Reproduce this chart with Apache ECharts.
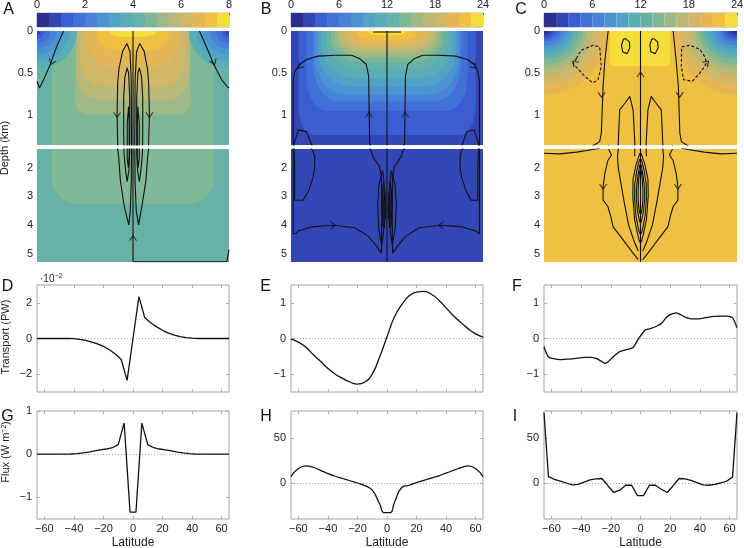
<!DOCTYPE html>
<html><head><meta charset="utf-8">
<script src="https://cdn.jsdelivr.net/npm/echarts@6/dist/echarts.min.js"></script>
<style>html,body{margin:0;padding:0;background:#fff}#c{width:744px;height:548px}</style>
</head><body><div id="c"></div>
<script>
// ================= DATA =================
const latTicks = [-60, -40, -20, 0, 20, 40, 60];
const depthTicksUpper = [0, 0.5, 1];
const depthTicksLower = [2, 3, 4, 5];
const cbTicksA = [0, 2, 4, 6, 8];
const cbTicksB = [0, 6, 12, 18, 24];
const cbTicksC = [0, 6, 12, 18, 24];

// Temperature regions (isotherm bands):
// [lat0, lat1, depthTop, depthBottom, cornerLat, cornerDepth, temperature]
const fieldA = [
  [-70, 70, -1, 6, 0, 0, 4.25],
  [-55, 55, -3.25, 3.25, 17, 0.9, 4.75],
  [-39, 39, -1.0, 1.0, 9, 0.15, 5.25],
  [-38, 38, -0.82, 0.82, 14, 0.3, 5.75],
  [-35.5, 35.5, -0.66, 0.66, 16, 0.35, 6.25],
  [-31, 31, -0.42, 0.42, 16, 0.3, 6.75],
  [-24.5, 24.5, -0.23, 0.23, 14, 0.18, 7.25],
  [-15.5, 15.5, -0.07, 0.07, 10, 0.06, 7.75],
  [-92, -38, -0.45, 0.45, 27, 0.45, 3.75],
  [-87, -43, -0.36, 0.36, 22, 0.36, 3.25],
  [-82, -48, -0.28, 0.28, 17, 0.28, 2.75],
  [-78, -52, -0.21, 0.21, 13, 0.21, 2.25],
  [-74, -56, -0.15, 0.15, 9, 0.15, 1.75],
  [-70, -60, -0.09, 0.09, 5, 0.09, 1.25],
  [-67.5, -62.5, -0.05, 0.05, 2.5, 0.05, 0.75],
  [38, 92, -0.45, 0.45, 27, 0.45, 3.75],
  [43, 87, -0.36, 0.36, 22, 0.36, 3.25],
  [48, 82, -0.28, 0.28, 17, 0.28, 2.75],
  [52, 78, -0.21, 0.21, 13, 0.21, 2.25],
  [56, 74, -0.15, 0.15, 9, 0.15, 1.75],
  [60, 70, -0.09, 0.09, 5, 0.09, 1.25],
  [62.5, 67.5, -0.05, 0.05, 2.5, 0.05, 0.75]
];
const fieldB = [
  [-70, 70, -1, 6, 0, 0, 2.25],
  [-60, 60, -1.24, 1.24, 10, 0.35, 3.75],
  [-54.5, 54.5, -0.95, 0.95, 14, 0.4, 5.25],
  [-50, 50, -0.84, 0.84, 18, 0.45, 6.75],
  [-48.5, 48.5, -0.76, 0.76, 20, 0.45, 8.25],
  [-46.5, 46.5, -0.66, 0.66, 22, 0.42, 9.75],
  [-44, 44, -0.56, 0.56, 22, 0.38, 11.25],
  [-41, 41, -0.45, 0.45, 22, 0.32, 12.75],
  [-38, 38, -0.37, 0.37, 21, 0.28, 14.25],
  [-35.5, 35.5, -0.31, 0.31, 20, 0.24, 15.75],
  [-33, 33, -0.26, 0.26, 19, 0.2, 17.25],
  [-30, 30, -0.21, 0.21, 18, 0.16, 18.75],
  [-26, 26, -0.16, 0.16, 16, 0.12, 20.25],
  [-20, 20, -0.11, 0.11, 13, 0.08, 21.75],
  [-12.8, 12.8, -0.05, 0.05, 9, 0.04, 23.25]
];
const fieldC = [
  [-70, 70, -1, 6, 0, 0, 21.75],
  [-107.5, -22.5, -0.76, 0.76, 42.5, 0.76, 20.25],
  [-103.5, -26.5, -0.64, 0.64, 38.5, 0.64, 18.75],
  [-98, -32, -0.54, 0.54, 33, 0.54, 17.25],
  [-94, -36, -0.46, 0.46, 29, 0.46, 15.75],
  [-91, -39, -0.4, 0.4, 26, 0.4, 14.25],
  [-88.5, -41.5, -0.34, 0.34, 23.5, 0.34, 12.75],
  [-86, -44, -0.29, 0.29, 21, 0.29, 11.25],
  [-83.5, -46.5, -0.25, 0.25, 18.5, 0.25, 9.75],
  [-81, -49, -0.21, 0.21, 16, 0.21, 8.25],
  [-78.5, -51.5, -0.17, 0.17, 13.5, 0.17, 6.75],
  [-76, -54, -0.13, 0.13, 11, 0.13, 5.25],
  [-73.5, -56.5, -0.1, 0.1, 8.5, 0.1, 3.75],
  [-71, -59, -0.07, 0.07, 6, 0.07, 2.25],
  [-68.5, -61.5, -0.04, 0.04, 3.5, 0.04, 0.75],
  [22.5, 107.5, -0.76, 0.76, 42.5, 0.76, 20.25],
  [26.5, 103.5, -0.64, 0.64, 38.5, 0.64, 18.75],
  [32, 98, -0.54, 0.54, 33, 0.54, 17.25],
  [36, 94, -0.46, 0.46, 29, 0.46, 15.75],
  [39, 91, -0.4, 0.4, 26, 0.4, 14.25],
  [41.5, 88.5, -0.34, 0.34, 23.5, 0.34, 12.75],
  [44, 86, -0.29, 0.29, 21, 0.29, 11.25],
  [46.5, 83.5, -0.25, 0.25, 18.5, 0.25, 9.75],
  [49, 81, -0.21, 0.21, 16, 0.21, 8.25],
  [51.5, 78.5, -0.17, 0.17, 13.5, 0.17, 6.75],
  [54, 76, -0.13, 0.13, 11, 0.13, 5.25],
  [56.5, 73.5, -0.1, 0.1, 8.5, 0.1, 3.75],
  [59, 71, -0.07, 0.07, 6, 0.07, 2.25],
  [61.5, 68.5, -0.04, 0.04, 3.5, 0.04, 0.75],
  [-20.5, 20, -0.42, 0.42, 3, 0.06, 23.25]
];

// Overturning streamlines [lat, depth km]
const streamA = [
  [[0, 0], [0, 5.28]],
  [[0, 5.27], [63.5, 5.27], [65, 4.85]],
  [[-47, 0], [-52, 0.2], [-56, 0.4], [-60.5, 0.58], [-63.3, 0.68], [-65, 0.6]],
  [[45, 0], [50, 0.2], [54.7, 0.4], [60, 0.58], [64.5, 0.68], [65, 0.67]],
  [[-4, 0.15], [-7, 0.24], [-9.5, 0.45], [-10.4, 0.62], [-10.8, 1.0], [-10.4, 1.34], [-9.7, 1.62], [-8.6, 2.43], [-5.9, 3.35], [-2.9, 3.99], [-1.8, 3.5], [-1.2, 2.5], [-1.0, 1.4], [-1.2, 0.6], [-2, 0.25], [-4, 0.15]],
  [[4.5, 0.15], [7.5, 0.24], [9.8, 0.45], [10.6, 0.62], [11.1, 1.0], [10.6, 1.34], [9.9, 1.62], [8.8, 2.43], [6, 3.35], [3.8, 3.99], [2.2, 3.5], [1.4, 2.5], [1.2, 1.4], [1.4, 0.6], [2.4, 0.25], [4.5, 0.15]],
  [[-4, 0.44], [-5.5, 0.55], [-6.3, 0.8], [-6.3, 1.22], [-5.9, 1.62], [-5, 2.1], [-4, 2.49], [-2.8, 2.1], [-2.2, 1.4], [-2.2, 0.8], [-3, 0.5], [-4, 0.44]],
  [[4.3, 0.44], [5.8, 0.55], [6.6, 0.8], [6.6, 1.22], [6.2, 1.62], [5.3, 2.1], [4.3, 2.49], [3.1, 2.1], [2.5, 1.4], [2.5, 0.8], [3.3, 0.5], [4.3, 0.44]],
  [[-3, 0.9], [-3.9, 1.1], [-3.9, 1.7], [-3.1, 2.0], [-2.6, 1.6], [-2.6, 1.1], [-3, 0.9]],
  [[3.3, 0.9], [4.2, 1.1], [4.2, 1.7], [3.4, 2.0], [2.9, 1.6], [2.9, 1.1], [3.3, 0.9]]
];
const arrowsA = [[-55, 0.37, -22], [54.7, 0.37, 22], [-10.8, 1.0, 0], [11.1, 1.0, 0], [0, 4.45, 180]];

const streamB = [
  [[0, 0], [0, 5.28]],
  [[-9.5, 0.012], [9.5, 0.012]],
  [[-11.7, 1.34], [-12.2, 0.82], [-12.4, 0.54], [-14, 0.4], [-18.5, 0.33], [-24, 0.29], [-35, 0.29], [-46.6, 0.3], [-54.5, 0.34], [-59, 0.4], [-62.4, 0.48], [-63.5, 0.58], [-63.5, 4.3], [-62, 4.3], [-60, 4.2], [-51, 4.06], [-36.5, 4.0], [-21.8, 4.09], [-12.8, 4.38], [-7.2, 4.72], [-3.8, 4.97], [-3.6, 4.3], [-3.6, 3.1], [-3.8, 2.31], [-5, 1.97], [-9.5, 1.62], [-11, 1.39], [-11.7, 1.34]],
  [[11.9, 1.34], [12.3, 0.82], [12.5, 0.54], [14, 0.4], [18.5, 0.33], [24, 0.29], [35, 0.29], [46.6, 0.3], [54.5, 0.34], [59, 0.4], [61.5, 0.48], [62.6, 0.58], [62.6, 4.3], [61.5, 4.3], [60, 4.2], [51, 4.06], [36.5, 4.0], [21.8, 4.09], [12.8, 4.38], [7.2, 4.72], [3.8, 4.97], [3.6, 4.3], [3.6, 3.1], [3.8, 2.31], [5, 1.97], [9.5, 1.62], [11, 1.39], [11.9, 1.34]],
  [[-63, 1.35], [-60, 1.18], [-54.5, 1.2], [-50.5, 1.38], [-48.9, 1.62], [-49, 2.0], [-50, 2.33], [-53, 2.8], [-56.8, 3.13], [-62.5, 3.13], [-62.5, 2.0], [-63, 1.35]],
  [[62, 1.35], [59, 1.18], [54, 1.2], [50.5, 1.38], [49.5, 1.62], [49.5, 2.0], [50.5, 2.33], [53.5, 2.8], [57, 3.13], [61.5, 3.13], [61.5, 2.0], [62, 1.35]],
  [[-3, 2.1], [-5.5, 2.6], [-6.3, 3.3], [-5.6, 4.1], [-3.6, 4.7], [-2.2, 4.2], [-2.0, 3.0], [-2.2, 2.4], [-3, 2.1]],
  [[3, 2.1], [5.5, 2.6], [6.3, 3.3], [5.6, 4.1], [3.6, 4.7], [2.2, 4.2], [2.0, 3.0], [2.2, 2.4], [3, 2.1]],
  [[-2.2, 2.5], [-3, 2.8], [-3.2, 3.4], [-2.8, 4.0], [-1.8, 4.1], [-1.2, 3.5], [-1.3, 2.9], [-2.2, 2.5]],
  [[2.2, 2.5], [3, 2.8], [3.2, 3.4], [2.8, 4.0], [1.8, 4.1], [1.2, 3.5], [1.3, 2.9], [2.2, 2.5]],
  [[-1.5, 2.9], [-2, 3.2], [-2, 3.7], [-1.2, 3.8], [-0.8, 3.4], [-1.5, 2.9]],
  [[1.5, 2.9], [2, 3.2], [2, 3.7], [1.2, 3.8], [0.8, 3.4], [1.5, 2.9]]
];
const arrowsB = [[-59, 0.42, -45], [59, 0.42, 45], [-12.2, 1.0, 180], [12.3, 1.0, 180], [-36.5, 4.0, 90], [36.5, 4.0, -90]];

const streamC = [
  [[0, 0], [0, 5.28]],
  [[-21.8, 0], [-24, 0.35], [-25.2, 0.66], [-26.4, 1.22], [-27.5, 1.32], [-32, 1.37], [-43, 1.46], [-54.5, 1.52], [-65, 1.5]],
  [[22, 0], [24, 0.35], [25.5, 0.66], [26.5, 1.22], [27.5, 1.32], [32, 1.37], [43, 1.46], [54.5, 1.52], [65, 1.5]],
  [[-21.5, 1.36], [-19.5, 1.56], [-22, 1.75], [-24, 2.2], [-25.2, 2.66], [-25.2, 3.13], [-22, 3.35], [-20, 3.7], [-18.5, 4.05], [-11.7, 4.51], [-5, 4.97], [-1.5, 5.2]],
  [[21.5, 1.36], [19.5, 1.56], [22, 1.75], [24, 2.2], [25.2, 2.66], [25.2, 3.13], [22, 3.35], [20, 3.7], [18.5, 4.05], [11.7, 4.51], [5, 4.97], [1.5, 5.2]],
  [[-4, 1.6], [-3.8, 1.34], [-5, 0.94], [-7.2, 0.78], [-10, 0.85], [-14, 0.94], [-15, 1.34], [-15.5, 1.6], [-15, 2.0], [-13, 2.6], [-11, 3.2], [-8, 4.0], [-4, 4.6], [-1.5, 4.9]],
  [[4, 1.6], [3.8, 1.34], [5, 0.94], [7.2, 0.78], [10, 0.85], [14, 0.94], [15, 1.34], [15.5, 1.6], [15, 2.0], [13, 2.6], [11, 3.2], [8, 4.0], [4, 4.6], [1.5, 4.9]],
  [[-0.5, 1.5], [-3, 1.9], [-5, 2.4], [-5.2, 3.0], [-4, 3.8], [-2, 4.3], [-0.5, 4.6]],
  [[0.5, 1.5], [3, 1.9], [5, 2.4], [5.2, 3.0], [4, 3.8], [2, 4.3], [0.5, 4.6]],
  [[-0.5, 1.7], [-2.5, 2.1], [-3.9, 2.6], [-4, 3.1], [-3, 3.7], [-1.5, 4.1], [-0.5, 4.3]],
  [[0.5, 1.7], [2.5, 2.1], [3.9, 2.6], [4, 3.1], [3, 3.7], [1.5, 4.1], [0.5, 4.3]],
  [[-0.5, 1.9], [-1.8, 2.3], [-2.7, 2.7], [-2.8, 3.1], [-2, 3.5], [-0.5, 3.9]],
  [[0.5, 1.9], [1.8, 2.3], [2.7, 2.7], [2.8, 3.1], [2, 3.5], [0.5, 3.9]],
  [[-0.5, 2.1], [-1.2, 2.4], [-1.6, 2.8], [-1.6, 3.1], [-1.1, 3.4], [-0.5, 3.6]],
  [[0.5, 2.1], [1.2, 2.4], [1.6, 2.8], [1.6, 3.1], [1.1, 3.4], [0.5, 3.6]],
  [[-10, 0.09], [-7.5, 0.13], [-7.2, 0.2], [-9, 0.27], [-12, 0.25], [-12.8, 0.17], [-11.5, 0.1], [-10, 0.09]],
  [[9, 0.09], [11.5, 0.13], [11.9, 0.2], [10, 0.27], [7, 0.25], [6.3, 0.17], [7.5, 0.1], [9, 0.09]]
];
const dashedC = [
  [[-43.2, 0.33], [-40, 0.23], [-32, 0.17], [-27.5, 0.19], [-26.4, 0.42], [-28.6, 0.58], [-32, 0.62], [-37.6, 0.54], [-43.2, 0.43], [-45.5, 0.38], [-43.2, 0.33]],
  [[27.7, 0.19], [33.3, 0.17], [40, 0.22], [43, 0.3], [44.6, 0.38], [41, 0.48], [35, 0.6], [29, 0.58], [27.5, 0.42], [27.7, 0.19]]
];
const arrowsC = [[-26.2, 0.76, 0], [26.4, 0.76, 0], [-25.2, 2.66, 0], [25.2, 2.66, 0], [0, 0.52, 180], [-44.4, 0.38, 225], [44.6, 0.38, 135]];

// Heat transport (D: x1e-2 PW; E, F: PW)
const latD = [-65, -60, -56, -52, -48, -44, -40, -36, -32, -28, -24, -20, -16, -12, -8, -4, 0, 4, 8, 12, 16, 20, 24, 28, 32, 36, 40, 44, 48, 52, 56, 60, 65];
const transportD = [0, 0, 0, 0, 0, 0, -0.01, -0.05, -0.11, -0.2, -0.3, -0.44, -0.63, -0.87, -1.18, -2.35, 0, 2.35, 1.16, 0.88, 0.65, 0.46, 0.3, 0.19, 0.11, 0.05, 0.02, 0, 0, 0, 0, 0, 0];
const latE = [-65, -60, -55, -50, -45, -40, -35, -30, -25, -20, -15, -10, -5, 0, 5, 10, 15, 20, 25, 30, 35, 40, 45, 50, 55, 60, 65];
const transportE = [-0.02, -0.1, -0.24, -0.45, -0.64, -0.84, -1.0, -1.12, -1.22, -1.28, -1.22, -1.0, -0.52, 0.05, 0.6, 0.95, 1.2, 1.3, 1.32, 1.24, 1.08, 0.86, 0.64, 0.45, 0.27, 0.13, 0.04];
const latF = [-65, -62, -58, -54, -50, -46, -42, -38, -34, -30, -26, -24, -22, -18, -14, -10, -5, -2, 3, 6, 10, 14, 18, 22, 24, 26, 30, 34, 38, 42, 46, 50, 54, 58, 62, 65];
const transportF = [-0.23, -0.52, -0.57, -0.59, -0.58, -0.57, -0.55, -0.53, -0.53, -0.56, -0.65, -0.7, -0.66, -0.5, -0.37, -0.32, -0.25, -0.05, 0.23, 0.27, 0.33, 0.42, 0.62, 0.7, 0.72, 0.69, 0.6, 0.55, 0.55, 0.57, 0.6, 0.62, 0.63, 0.63, 0.58, 0.3];
// Surface heat flux (W m-2)
const latG = [-65, -62, -58, -54, -50, -46, -42, -38, -34, -30, -26, -22, -18, -14, -10, -6, -2, 2, 6, 10, 14, 18, 22, 26, 30, 34, 38, 42, 46, 50, 54, 58, 62, 65];
const fluxG = [0, 0, 0, 0, 0, 0, 0.005, 0.012, 0.03, 0.05, 0.075, 0.1, 0.12, 0.15, 0.22, 0.72, -1.34, -1.34, 0.72, 0.22, 0.15, 0.12, 0.1, 0.075, 0.05, 0.03, 0.012, 0.005, 0, 0, 0, 0, 0, 0];
const latH = [-65, -60, -55, -50, -45, -40, -35, -30, -25, -20, -15, -10, -5, -2, 2, 5, 10, 15, 20, 25, 30, 35, 40, 45, 50, 55, 60, 65];
const fluxH = [7, 16, 19, 17.5, 14, 10.5, 7.5, 5, 2.5, 0, -3, -8, -23, -33, -33, -22, -5, -2.5, 0.5, 3, 5.5, 8, 11, 14, 17, 19, 16, 7];
const latI = [-65, -62, -58, -54, -50, -46, -42, -38, -34, -30, -26, -22, -18, -14, -10, -6, -2, 2, 6, 10, 14, 18, 22, 26, 30, 34, 38, 42, 46, 50, 54, 58, 62, 65];
const fluxI = [78, 7, 4, 2, 0, -2, -1.5, 1, 3.5, 4.5, 5, -3, -10.5, -8, -2.5, -2.5, -14, -14, -2.5, -2.5, -7, -10.5, -3, 5, 4.5, 3, 0.5, -2, -2.5, -1.5, 0, 2, 6.5, 78];

// ================= STYLE / LAYOUT =================
const palette = ['#2c2f8e', '#3445b6', '#3a5dd2', '#4171d8', '#4883d8', '#4c94d1', '#51a3c6', '#5aadb6', '#67b2a4', '#80b794', '#9eb985', '#bab976', '#d2b766', '#e5b656', '#f0c043', '#f5de3a'];
const FONT = 'Liberation Sans, Arial, Helvetica, sans-serif';
const cols = [{left: 37, width: 192}, {left: 291, width: 192}, {left: 544, width: 193}];
const rows = {
  cb: {top: 13, height: 14}, up: {top: 31, height: 114}, lo: {top: 149, height: 113},
  mid: {top: 285, height: 107}, bot: {top: 411, height: 108}
};
const minus = v => String(v).replace('-', '\u2212');

const panels = [
  {field: fieldA, cbTicks: cbTicksA, streams: streamA, dashed: [], arrows: arrowsA,
   lat1: latD, v1: transportD, y1: {min: -3, max: 3, ticks: [-2, 0, 2]}, s1: false,
   lat2: latG, v2: fluxG, y2: {min: -1.5, max: 1, ticks: [-1, 0, 1]}, s2: false},
  {field: fieldB, cbTicks: cbTicksB, streams: streamB, dashed: [], arrows: arrowsB,
   lat1: latE, v1: transportE, y1: {min: -1.5, max: 1.5, ticks: [-1, 0, 1]}, s1: true,
   lat2: latH, v2: fluxH, y2: {min: -40, max: 80, ticks: [0, 50]}, s2: true},
  {field: fieldC, cbTicks: cbTicksC, streams: streamC, dashed: dashedC, arrows: arrowsC,
   lat1: latF, v1: transportF, y1: {min: -1.5, max: 1.5, ticks: [-1, 0, 1]}, s1: 0.25,
   lat2: latI, v2: fluxI, y2: {min: -40, max: 80, ticks: [0, 50]}, s2: false}
];

function renderRegion(params, api) {
  const l0 = api.value(0), l1 = api.value(1), d0 = api.value(2), d1 = api.value(3);
  const a = api.coord([l0, d0]);
  const b = api.coord([l1, d1]);
  const c = api.coord([l0 + api.value(4), d0 + api.value(5)]);
  const x0 = Math.min(a[0], b[0]), x1 = Math.max(a[0], b[0]);
  const y0 = Math.min(a[1], b[1]), y1 = Math.max(a[1], b[1]);
  const rx = Math.min(Math.abs(c[0] - a[0]), (x1 - x0) / 2);
  const ry = Math.min(Math.abs(c[1] - a[1]), (y1 - y0) / 2);
  const fill = api.visual('color');
  if (rx < 0.5 || ry < 0.5) {
    return {type: 'rect', shape: {x: x0, y: y0, width: x1 - x0, height: y1 - y0}, style: {fill: fill}};
  }
  const pts = [];
  const N = 14;
  const corner = (cx, cy, start) => {
    for (let i = 0; i <= N; i++) {
      const t = start + (Math.PI / 2) * i / N;
      pts.push([cx + rx * Math.cos(t), cy + ry * Math.sin(t)]);
    }
  };
  corner(x1 - rx, y0 + ry, -Math.PI / 2);
  corner(x1 - rx, y1 - ry, 0);
  corner(x0 + rx, y1 - ry, Math.PI / 2);
  corner(x0 + rx, y0 + ry, Math.PI);
  return {type: 'polygon', shape: {points: pts}, style: {fill: fill}};
}

const grid = [], xAxis = [], yAxis = [], series = [], visualMap = [], graphic = [];
function addGrid(col, row, extra) {
  grid.push(Object.assign({left: col.left, width: col.width, top: row.top, height: row.height,
    containLabel: false, outerBoundsMode: 'none'}, extra || {}));
  return grid.length - 1;
}
const labelStyle = {fontSize: 11, color: '#222', fontFamily: FONT};
const noLine = {show: false, onZero: false};

panels.forEach((p, i) => {
  const col = cols[i];
  const cbMax = p.cbTicks[p.cbTicks.length - 1];
  const step = cbMax / palette.length;
  const vmSeries = [];

  // ---- colorbar ----
  const gCb = addGrid(col, rows.cb, {show: true, borderColor: '#8a8a8a', borderWidth: 0.7});
  xAxis.push({gridIndex: gCb, type: 'value', min: 0, max: cbMax, position: 'top',
    axisLine: noLine, splitLine: {show: false},
    axisTick: {show: true, inside: true, length: 2, customValues: p.cbTicks, lineStyle: {color: '#666'}},
    axisLabel: Object.assign({customValues: p.cbTicks, margin: 3}, labelStyle)});
  yAxis.push({gridIndex: gCb, type: 'value', min: 0, max: 1, show: false});
  const cbData = palette.map((col_, k) => [k * step, (k + 1) * step, 0, 1, 0, 0, (k + 0.5) * step]);
  vmSeries.push(series.length);
  series.push({type: 'custom', xAxisIndex: xAxis.length - 1, yAxisIndex: yAxis.length - 1,
    data: cbData, renderItem: renderRegion, silent: true, clip: true, z: 1});

  // ---- section (upper and lower depth ranges) ----
  [['up', 0, 1.36, depthTicksUpper], ['lo', 1.35, 5.28, depthTicksLower]].forEach(([rk, dmin, dmax, ticks]) => {
    const g = addGrid(col, rows[rk]);
    xAxis.push({gridIndex: g, type: 'value', min: -65, max: 65, show: false, axisLine: noLine});
    yAxis.push({gridIndex: g, type: 'value', inverse: true, min: dmin, max: dmax,
      axisLine: noLine, axisTick: {show: false}, splitLine: {show: false},
      axisLabel: Object.assign({customValues: ticks, margin: 4}, labelStyle)});
    const xi = xAxis.length - 1, yi = yAxis.length - 1;
    vmSeries.push(series.length);
    series.push({type: 'custom', xAxisIndex: xi, yAxisIndex: yi, data: p.field,
      renderItem: renderRegion, silent: true, clip: true, z: 1});
    p.streams.forEach(line => series.push({type: 'line', xAxisIndex: xi, yAxisIndex: yi, data: line,
      symbol: 'none', showSymbol: false, clip: true, silent: true, z: 5,
      lineStyle: {color: '#111', width: 1.1}}));
    p.dashed.forEach(line => series.push({type: 'line', xAxisIndex: xi, yAxisIndex: yi, data: line,
      symbol: 'none', showSymbol: false, clip: true, silent: true, z: 5,
      lineStyle: {color: '#111', width: 1.1, type: [3, 2]}}));
    series.push({type: 'scatter', xAxisIndex: xi, yAxisIndex: yi, data: p.arrows,
      symbol: 'path://M0,0L5,6L10,0', symbolSize: [7, 5], symbolRotate: v => v[2],
      itemStyle: {color: 'rgba(0,0,0,0)', borderColor: '#111', borderWidth: 1},
      silent: true, clip: true, z: 6});
  });

  visualMap.push({type: 'piecewise', show: false, dimension: 6, seriesIndex: vmSeries,
    pieces: palette.map((c, k) => ({gte: k * step, lt: (k + 1) * step, color: c}))});

  // ---- line plots ----
  [['mid', p.lat1, p.v1, p.y1, p.s1], ['bot', p.lat2, p.v2, p.y2, p.s2]].forEach(([rk, lats, vals, yc, sm]) => {
    const g = addGrid(col, rows[rk], {show: true, borderColor: '#8c8c8c', borderWidth: 0.8});
    const tick = {inside: true, length: 3, lineStyle: {color: '#b0b0b0'}};
    xAxis.push({gridIndex: g, type: 'value', min: -65, max: 65, position: 'bottom',
      axisLine: noLine, splitLine: {show: false},
      axisTick: Object.assign({customValues: latTicks}, tick),
      axisLabel: Object.assign({show: rk === 'bot', customValues: latTicks, margin: 4, formatter: minus}, labelStyle)});
    const xi = xAxis.length - 1;
    xAxis.push({gridIndex: g, type: 'value', min: -65, max: 65, position: 'top',
      axisLine: noLine, splitLine: {show: false},
      axisTick: Object.assign({customValues: latTicks}, tick), axisLabel: {show: false}});
    yAxis.push({gridIndex: g, type: 'value', min: yc.min, max: yc.max, position: 'left',
      axisLine: noLine, splitLine: {show: false},
      axisTick: Object.assign({customValues: yc.ticks}, tick),
      axisLabel: Object.assign({customValues: yc.ticks, margin: 5, formatter: minus}, labelStyle)});
    const yi = yAxis.length - 1;
    yAxis.push({gridIndex: g, type: 'value', min: yc.min, max: yc.max, position: 'right',
      axisLine: noLine, splitLine: {show: false},
      axisTick: Object.assign({customValues: yc.ticks}, tick), axisLabel: {show: false}});
    series.push({type: 'line', xAxisIndex: xi, yAxisIndex: yi,
      data: lats.map((la, k) => [la, vals[k]]), smooth: sm, symbol: 'none', showSymbol: false,
      clip: true, silent: true, z: 5, lineStyle: {color: '#111', width: 1.3},
      markLine: {silent: true, symbol: ['none', 'none'], label: {show: false},
        lineStyle: {type: [1, 2], color: '#aaa', width: 1}, data: [{yAxis: 0}]}});
    if (rk === 'bot') {
      graphic.push({type: 'text', x: col.left + col.width / 2, y: 543,
        style: {text: 'Latitude', font: '12px ' + FONT, fill: '#222', align: 'center', verticalAlign: 'middle'}});
    }
  });
});

// panel letters
[['A', 8.5, 9.5], ['B', 266, 9.5], ['C', 521, 9.5], ['D', 7.5, 286.5], ['E', 265.5, 286.5], ['F', 517, 286.5],
 ['G', 7.5, 416.5], ['H', 266, 416.5], ['I', 515, 416.5]].forEach(([t, x, y]) => {
  graphic.push({type: 'text', x: x, y: y, style: {text: t, font: '16px ' + FONT, fill: '#111', align: 'center', verticalAlign: 'middle'}});
});
// axis titles
[['Depth (km)', 5, 148], ['Transport (PW)', 5.5, 337], ['Flux (W m\u207B\u00B2)', 5.5, 452]].forEach(([t, x, y]) => {
  graphic.push({type: 'text', x: x, y: y, rotation: Math.PI / 2,
    style: {text: t, font: '11px ' + FONT, fill: '#222', align: 'center', verticalAlign: 'middle'}});
});
graphic.push({type: 'text', x: 40, y: 279, style: {text: '\u00B710{s|\u22122}', font: '10px ' + FONT, fill: '#222',
  verticalAlign: 'middle', rich: {s: {fontSize: 7, fontFamily: FONT, verticalAlign: 'top', padding: [0, 0, 6, 0]}}}});

const chart = echarts.init(document.getElementById('c'), null, {renderer: 'canvas', width: 744, height: 548});
chart.setOption({animation: false, backgroundColor: '#fff', grid, xAxis, yAxis, series, visualMap, graphic});
</script>
</body></html>
